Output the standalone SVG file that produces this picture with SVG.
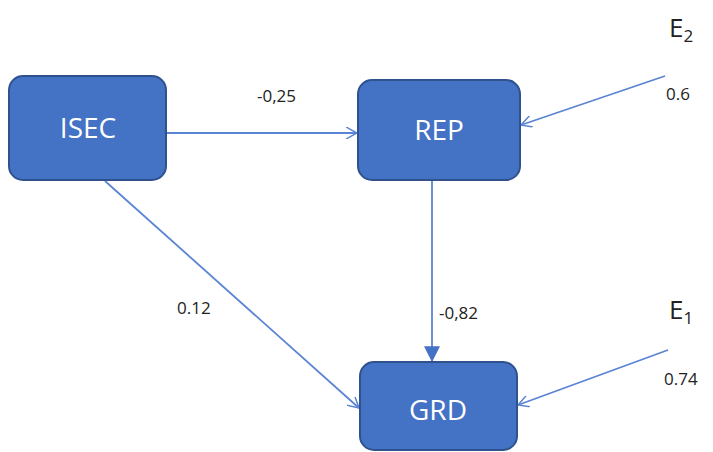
<svg xmlns="http://www.w3.org/2000/svg" width="713" height="452" viewBox="0 0 713 452">
<defs>
<marker id="open" viewBox="0 0 12 12" refX="11" refY="6" markerWidth="12" markerHeight="12" markerUnits="userSpaceOnUse" orient="auto">
<path d="M0,0 L11,6 L0,12" fill="none" stroke="#5b84d4" stroke-width="1.5"/>
</marker>
<marker id="solid" viewBox="0 0 14 14" refX="13" refY="7" markerWidth="16" markerHeight="16" markerUnits="userSpaceOnUse" orient="auto">
<path d="M0,0 L14,7 L0,14 Z" fill="#4472c4"/>
</marker>
</defs>
<style>
.box{fill:#4472c4;stroke:#2f528f;stroke-width:2}
.bt{font-family:"Open Sans","Liberation Sans",sans-serif;font-size:28px;fill:#ffffff;text-anchor:middle}
.lb{font-family:"Open Sans","Liberation Sans",sans-serif;font-size:17px;fill:#222222}
.e{font-family:"Open Sans","Liberation Sans",sans-serif;font-size:26px;fill:#222222}
.c{stroke:#5b84d4;stroke-width:1.8;fill:none}
</style>
<rect width="713" height="452" fill="#ffffff"/>
<g id="connectors">
<line class="c" x1="166" y1="133" x2="357" y2="133" marker-end="url(#open)"/>
<line class="c" x1="105" y1="181" x2="359" y2="408" marker-end="url(#open)"/>
<line class="c" x1="432" y1="181" x2="432" y2="361" marker-end="url(#solid)"/>
<line class="c" x1="665" y1="76" x2="521" y2="125" marker-end="url(#open)"/>
<line class="c" x1="668" y1="350" x2="518" y2="405" marker-end="url(#open)"/>
</g>
<g id="ISEC">
<rect class="box" x="9" y="76" width="157" height="104" rx="14"/>
<text class="bt" x="88" y="138">ISEC</text>
</g>
<g id="REP">
<rect class="box" x="358" y="80" width="162" height="100" rx="14"/>
<text class="bt" x="439" y="140">REP</text>
</g>
<g id="GRD">
<rect class="box" x="360" y="362" width="157" height="88" rx="14"/>
<text class="bt" x="438" y="420">GRD</text>
</g>
<g id="labels">
<text class="lb" x="257" y="102">-0,25</text>
<text class="lb" x="177" y="314">0.12</text>
<text class="lb" x="439" y="319">-0,82</text>
<text class="lb" x="666" y="100">0.6</text>
<text class="lb" x="664" y="385">0.74</text>
<text class="e" x="669" y="37">E<tspan font-size="17" dy="5">2</tspan></text>
<text class="e" x="669" y="319">E<tspan font-size="17" dy="5">1</tspan></text>
</g>
</svg>
